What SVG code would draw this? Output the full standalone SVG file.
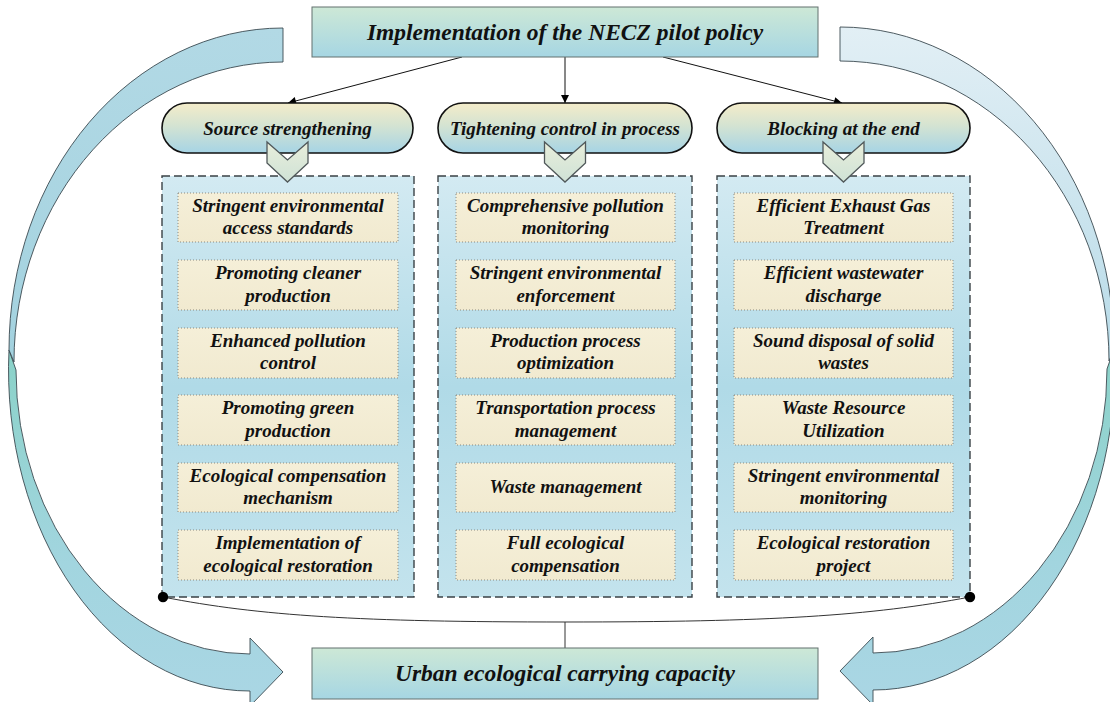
<svg xmlns="http://www.w3.org/2000/svg" width="1110" height="702" viewBox="0 0 1110 702">
  <defs>
    <linearGradient id="gTitle" x1="0" y1="0" x2="0" y2="1">
      <stop offset="0" stop-color="#cde8d6"/>
      <stop offset="1" stop-color="#a6d6e3"/>
    </linearGradient>
    <linearGradient id="gPill" x1="0" y1="0" x2="0" y2="1">
      <stop offset="0" stop-color="#f4ecc9"/>
      <stop offset="0.45" stop-color="#d4e3d2"/>
      <stop offset="1" stop-color="#a6d4e5"/>
    </linearGradient>
    <linearGradient id="gChev" x1="0" y1="0" x2="0" y2="1">
      <stop offset="0" stop-color="#e8eedb"/>
      <stop offset="1" stop-color="#cfe2d6"/>
    </linearGradient>
    <linearGradient id="gPanel" x1="0" y1="0" x2="0" y2="1">
      <stop offset="0" stop-color="#d3eaf2"/>
      <stop offset="0.5" stop-color="#b0dae7"/>
      <stop offset="1" stop-color="#c3e3ed"/>
    </linearGradient>
    <linearGradient id="gItem" x1="0" y1="0" x2="0" y2="1">
      <stop offset="0" stop-color="#f5efd8"/>
      <stop offset="1" stop-color="#f1ead0"/>
    </linearGradient>
    <linearGradient id="gArcTopL" x1="0" y1="0" x2="0" y2="1">
      <stop offset="0" stop-color="#b2d9e5"/>
      <stop offset="1" stop-color="#a3d2df"/>
    </linearGradient>
    <linearGradient id="gArcTopR" x1="0" y1="0" x2="0" y2="1">
      <stop offset="0" stop-color="#e2eff5"/>
      <stop offset="1" stop-color="#b8dbe8"/>
    </linearGradient>
    <linearGradient id="gArcLow" x1="0" y1="0" x2="0" y2="1">
      <stop offset="0" stop-color="#8ad2c8"/>
      <stop offset="0.6" stop-color="#a2d5df"/>
      <stop offset="1" stop-color="#aad6e4"/>
    </linearGradient>
    <marker id="arrow" viewBox="0 0 10 10" refX="10" refY="5" markerWidth="10" markerHeight="8" markerUnits="userSpaceOnUse" orient="auto">
      <path d="M0,0 L10,5 L0,10 Z" fill="#000"/>
    </marker>
    <!-- curved feedback arrow: upper ribbon and lower ribbon with head -->
    <path id="arcUpper" d="M283 28 A274 322 0 0 0 9 350 L14 362 A269 300 0 0 1 283 62 Z"/>
    <path id="arcLower" d="M9 350 A241 321 0 0 0 250 691 L250 706 L283 672 L250 638 L250 654 A234 284 0 0 1 16 370 Z"/>
    <path id="chevron" d="M-20.5 0 L-20.5 21 L0 40 L20.5 21 L20.5 0 L0 18 Z"/>
  </defs>
  <style>
    text { font-family: "Liberation Serif", "Times New Roman", serif; font-weight: bold; font-style: italic; fill: #111; text-anchor: middle; }
    .title { font-size: 23.5px; }
    .pilltxt { font-size: 19px; }
    .item { font-size: 19px; }
    .box { fill: url(#gTitle); stroke: #62706f; stroke-width: 1; }
    .pill { fill: url(#gPill); stroke: #111; stroke-width: 1.6; }
    .chev { fill: url(#gChev); stroke: #50585a; stroke-width: 1.3; }
    .panel { fill: url(#gPanel); stroke: #3a4246; stroke-width: 1.4; stroke-dasharray: 8 4; }
    .itembox { fill: url(#gItem); stroke: #8b8a80; stroke-width: 1; stroke-dasharray: 1 2; }
    .arc { stroke: #3b4a50; stroke-width: 0.9; }
    .link { fill: none; stroke: #111; stroke-width: 1; }
    .join { fill: none; stroke: #333; stroke-width: 1; }
  </style>

  <rect width="1110" height="702" fill="#fff"/>

  <!-- feedback arrows on both sides -->
  <g id="arc-left">
    <use href="#arcLower" class="arc" fill="url(#gArcLow)"/>
    <use href="#arcUpper" class="arc" fill="url(#gArcTopL)"/>
  </g>
  <g id="arc-right" transform="translate(1123,-1) scale(-1,1)">
    <use href="#arcLower" class="arc" fill="url(#gArcLow)"/>
    <use href="#arcUpper" class="arc" fill="url(#gArcTopR)"/>
  </g>

  <!-- connectors -->
  <g id="connectors">
    <line class="link" x1="462" y1="57" x2="288" y2="103" marker-end="url(#arrow)"/>
    <line class="link" x1="565" y1="57" x2="565" y2="103" marker-end="url(#arrow)"/>
    <line class="link" x1="663" y1="57" x2="842" y2="103" marker-end="url(#arrow)"/>
    <path class="join" d="M163 597 C260 616 360 622 565 622 C770 622 870 616 970 597"/>
    <line class="join" x1="565" y1="622" x2="565" y2="648"/>
  </g>

  <!-- policy node -->
  <g id="policy">
    <rect class="box" x="312" y="7" width="506" height="50"/>
    <text class="title" x="565" y="40">Implementation of the NECZ pilot policy</text>
  </g>

  <!-- stages -->
  <g id="stage-source">
    <rect class="pill" x="162" y="103" width="251" height="50" rx="25"/>
    <text class="pilltxt" x="287.5" y="135">Source strengthening</text>
  </g>
  <g id="stage-process">
    <rect class="pill" x="438" y="103" width="254" height="50" rx="25"/>
    <text class="pilltxt" x="565" y="135">Tightening control in process</text>
  </g>
  <g id="stage-end">
    <rect class="pill" x="717" y="103" width="253" height="50" rx="25"/>
    <text class="pilltxt" x="843.5" y="135">Blocking at the end</text>
  </g>

  <!-- measure panels -->
  <g id="panel-source">
    <rect class="panel" x="162" y="176" width="252" height="421"/>
    <rect class="itembox" x="178" y="193" width="220" height="49"/>
    <text class="item" x="288" y="212">Stringent environmental</text>
    <text class="item" x="288" y="234">access standards</text>
    <rect class="itembox" x="178" y="260" width="220" height="50"/>
    <text class="item" x="288" y="279">Promoting cleaner</text>
    <text class="item" x="288" y="302">production</text>
    <rect class="itembox" x="178" y="328" width="220" height="50"/>
    <text class="item" x="288" y="347">Enhanced pollution</text>
    <text class="item" x="288" y="369">control</text>
    <rect class="itembox" x="178" y="395" width="220" height="50"/>
    <text class="item" x="288" y="414">Promoting green</text>
    <text class="item" x="288" y="437">production</text>
    <rect class="itembox" x="178" y="463" width="220" height="49"/>
    <text class="item" x="288" y="482">Ecological compensation</text>
    <text class="item" x="288" y="504">mechanism</text>
    <rect class="itembox" x="178" y="530" width="220" height="50"/>
    <text class="item" x="288" y="549">Implementation of</text>
    <text class="item" x="288" y="572">ecological restoration</text>
  </g>

  <g id="panel-process">
    <rect class="panel" x="438" y="176" width="254" height="421"/>
    <rect class="itembox" x="456" y="193" width="219" height="49"/>
    <text class="item" x="565.5" y="212">Comprehensive pollution</text>
    <text class="item" x="565.5" y="234">monitoring</text>
    <rect class="itembox" x="456" y="260" width="219" height="50"/>
    <text class="item" x="565.5" y="279">Stringent environmental</text>
    <text class="item" x="565.5" y="302">enforcement</text>
    <rect class="itembox" x="456" y="328" width="219" height="50"/>
    <text class="item" x="565.5" y="347">Production process</text>
    <text class="item" x="565.5" y="369">optimization</text>
    <rect class="itembox" x="456" y="395" width="219" height="50"/>
    <text class="item" x="565.5" y="414">Transportation process</text>
    <text class="item" x="565.5" y="437">management</text>
    <rect class="itembox" x="456" y="463" width="219" height="49"/>
    <text class="item" x="565.5" y="493">Waste management</text>
    <rect class="itembox" x="456" y="530" width="219" height="50"/>
    <text class="item" x="565.5" y="549">Full ecological</text>
    <text class="item" x="565.5" y="572">compensation</text>
  </g>

  <g id="panel-end">
    <rect class="panel" x="717" y="176" width="253" height="421"/>
    <rect class="itembox" x="734" y="193" width="219" height="49"/>
    <text class="item" x="843.5" y="212">Efficient Exhaust Gas</text>
    <text class="item" x="843.5" y="234">Treatment</text>
    <rect class="itembox" x="734" y="260" width="219" height="50"/>
    <text class="item" x="843.5" y="279">Efficient wastewater</text>
    <text class="item" x="843.5" y="302">discharge</text>
    <rect class="itembox" x="734" y="328" width="219" height="50"/>
    <text class="item" x="843.5" y="347">Sound disposal of solid</text>
    <text class="item" x="843.5" y="369">wastes</text>
    <rect class="itembox" x="734" y="395" width="219" height="50"/>
    <text class="item" x="843.5" y="414">Waste Resource</text>
    <text class="item" x="843.5" y="437">Utilization</text>
    <rect class="itembox" x="734" y="463" width="219" height="49"/>
    <text class="item" x="843.5" y="482">Stringent environmental</text>
    <text class="item" x="843.5" y="504">monitoring</text>
    <rect class="itembox" x="734" y="530" width="219" height="50"/>
    <text class="item" x="843.5" y="549">Ecological restoration</text>
    <text class="item" x="843.5" y="572">project</text>
  </g>

  <!-- chevrons linking stages to panels -->
  <g id="chevrons">
    <use href="#chevron" class="chev" x="287.5" y="142"/>
    <use href="#chevron" class="chev" x="565" y="142"/>
    <use href="#chevron" class="chev" x="843.5" y="142"/>
  </g>

  <!-- junction dots where the panels meet the merge line -->
  <g id="junctions">
    <circle cx="163" cy="597" r="5.2" fill="#000"/>
    <circle cx="970" cy="597" r="5.2" fill="#000"/>
  </g>

  <!-- carrying capacity node -->
  <g id="capacity">
    <rect class="box" x="312" y="648" width="506" height="51"/>
    <text class="title" x="565" y="681">Urban ecological carrying capacity</text>
  </g>
</svg>
